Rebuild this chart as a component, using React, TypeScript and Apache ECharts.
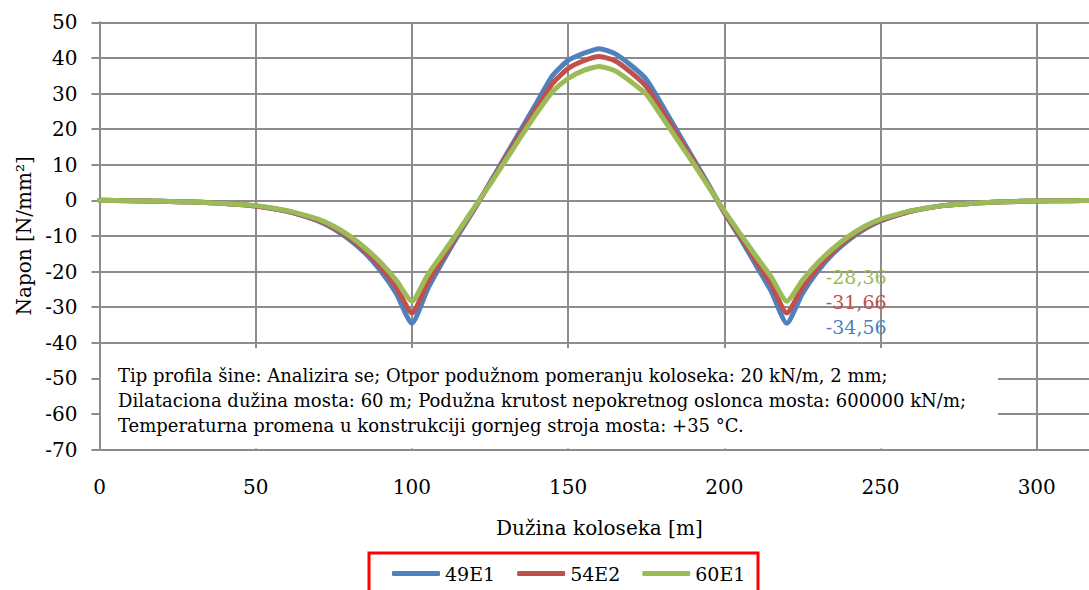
import React, { useEffect, useRef } from "react";
import * as echarts from "echarts";

const xValues = [0, 10, 20, 30, 40, 50, 60, 65, 70, 75, 80, 85, 90, 95, 100, 105, 110, 115, 120, 125, 130, 135, 140, 145, 150, 155, 160, 165, 170, 175, 180, 185, 190, 195, 200, 205, 210, 215, 220, 225, 230, 235, 240, 245, 250, 255, 260, 270, 280, 290, 300, 310, 320];

const series49E1 = [0, -0.1, -0.3, -0.5, -0.9, -1.6, -3.1, -4.3, -5.8, -8.0, -11.0, -14.8, -19.8, -26.2, -34.56, -25.0, -17.0, -9.5, -2.5, 5.0, 12.5, 20.0, 27.5, 35.0, 39.3, 41.3, 42.6, 41.2, 38.0, 34.0, 26.8, 19.3, 11.8, 4.3, -3.5, -10.5, -18.0, -25.5, -34.56, -26.2, -19.8, -14.8, -11.0, -8.0, -5.8, -4.3, -3.0, -1.5, -0.8, -0.4, -0.2, -0.1, 0];
const series54E2 = [0, -0.1, -0.3, -0.5, -0.9, -1.6, -3.0, -4.2, -5.6, -7.7, -10.6, -14.2, -18.8, -24.5, -31.66, -23.2, -16.0, -9.0, -2.3, 4.8, 11.9, 19.0, 26.0, 32.8, 37.0, 39.2, 40.4, 39.2, 36.0, 32.0, 25.2, 18.2, 11.2, 4.0, -3.3, -10.0, -16.8, -23.6, -31.66, -24.5, -18.8, -14.2, -10.6, -7.7, -5.6, -4.2, -3.0, -1.5, -0.8, -0.4, -0.2, -0.1, 0];
const series60E1 = [0, -0.1, -0.3, -0.5, -0.9, -1.5, -2.9, -4.0, -5.3, -7.3, -10.0, -13.4, -17.5, -22.5, -28.36, -21.0, -14.8, -8.5, -2.0, 4.5, 11.2, 18.0, 24.6, 30.5, 34.2, 36.5, 37.6, 36.4, 33.4, 29.8, 23.5, 17.0, 10.5, 3.8, -3.0, -9.3, -15.5, -21.5, -28.36, -22.5, -17.5, -13.4, -10.0, -7.3, -5.3, -4.0, -2.9, -1.5, -0.8, -0.4, -0.2, -0.1, 0];

const seriesNames = ["49E1", "54E2", "60E1"];
const seriesColors = ["#4F81BD", "#C0504D", "#9BBB59"];
const labelX = 220;
const labelOffsets = [4, -11, -24];

const noteLines = [
  "Tip profila šine: Analizira se; Otpor podužnom pomeranju koloseka: 20 kN/m, 2 mm;",
  "Dilataciona dužina mosta: 60 m; Podužna krutost nepokretnog oslonca mosta: 600000 kN/m;",
  "Temperaturna promena u konstrukciji gornjeg stroja mosta: +35 °C.",
];

const FONT = "DejaVu Serif";

export default function App() {
  const ref = useRef<HTMLDivElement>(null);
  useEffect(() => {
    if (!ref.current) return;
    const chart = echarts.init(ref.current, undefined, { renderer: "svg" });
    const allValues = [series49E1, series54E2, series60E1];
    const series = allValues.map((vals, si) => ({
      name: seriesNames[si],
      type: "line",
      symbol: "circle",
      symbolSize: 2,
      showSymbol: true,
      smooth: 0.2,
      z: 2 + si,
      lineStyle: { color: seriesColors[si], width: 5, join: "round", cap: "round" },
      itemStyle: { color: seriesColors[si] },
      label: { show: false },
      data: xValues.map((x, i) => {
        if (x === labelX) {
          return {
            value: [x, vals[i]],
            label: {
              show: true,
              position: "right",
              distance: 0,
              offset: [38, labelOffsets[si]],
              color: seriesColors[si],
              fontFamily: FONT,
              fontSize: 19,
              formatter: (p: any) => p.value[1].toFixed(2).replace(".", ","),
            },
          };
        }
        return [x, vals[i]];
      }),
    }));

    const graphics: any[] = [
      {
        type: "rect",
        z: 1,
        shape: { x: 101, y: 348, width: 897, height: 100.5 },
        style: { fill: "#ffffff" },
      },
      ...noteLines.map((t, i) => ({
        type: "text",
        z: 3,
        x: 118,
        y: 375 + i * 25,
        style: {
          text: t,
          font: `18px "${FONT}"`,
          fill: "#000",
          textAlign: "left",
          textVerticalAlign: "middle",
        },
      })),
      {
        type: "rect",
        z: 3,
        shape: { x: 369, y: 553, width: 389, height: 50 },
        style: { fill: "none", stroke: "#FF0000", lineWidth: 3 },
      },
    ];

    chart.setOption({
      animation: false,
      backgroundColor: "#ffffff",
      grid: {
        left: 99.5,
        top: 22.3,
        width: 999.7,
        height: 427.2,
        containLabel: false,
        outerBoundsMode: "none",
      },
      xAxis: {
        type: "value",
        min: 0,
        max: 320,
        interval: 50,
        name: "Dužina koloseka [m]",
        nameLocation: "middle",
        nameGap: 68,
        nameTextStyle: { fontFamily: FONT, fontSize: 20, color: "#000" },
        axisLine: { show: true, lineStyle: { color: "#8c8c8c", width: 2 } },
        axisTick: { show: true, inside: true, length: 4, lineStyle: { color: "#8c8c8c" } },
        axisLabel: { fontFamily: FONT, fontSize: 20, color: "#000", margin: 27, showMaxLabel: false },
        splitLine: { show: true, lineStyle: { color: "#8c8c8c", width: 2 } },
      },
      yAxis: {
        type: "value",
        min: -70,
        max: 50,
        interval: 10,
        name: "Napon [N/mm²]",
        nameLocation: "middle",
        nameGap: 66,
        nameTextStyle: { fontFamily: FONT, fontSize: 20, color: "#000" },
        axisLine: { show: true, lineStyle: { color: "#8c8c8c", width: 2 } },
        axisTick: { show: true, length: 8, lineStyle: { color: "#8c8c8c", width: 2 } },
        axisLabel: { fontFamily: FONT, fontSize: 20, color: "#000", margin: 22 },
        splitLine: { show: true, lineStyle: { color: "#8c8c8c", width: 2 } },
      },
      legend: {
        data: seriesNames,
        left: 392,
        top: 564,
        padding: 0,
        itemWidth: 48,
        itemHeight: 5,
        itemGap: 22,
        icon: "roundRect",
        textStyle: { fontFamily: FONT, fontSize: 19, color: "#000" },
      },
      graphic: graphics,
      series,
    });
    return () => chart.dispose();
  }, []);
  return (
    <div
      ref={ref}
      style={{ position: "fixed", left: 0, top: 0, width: 1089, height: 590, background: "#fff" }}
    />
  );
}
